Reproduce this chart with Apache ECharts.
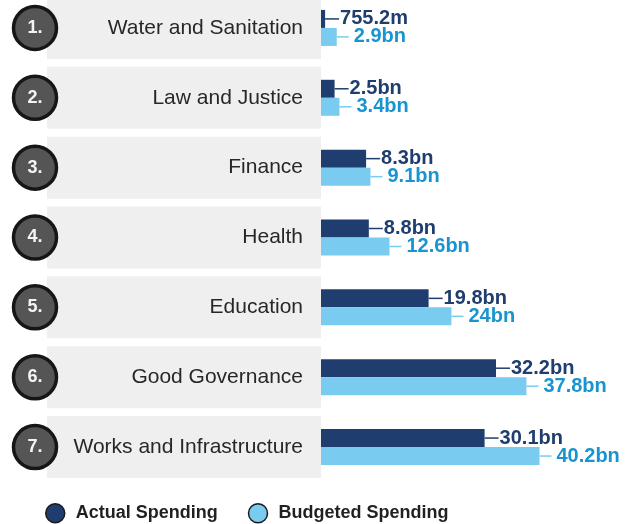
<!DOCTYPE html>
<html>
<head>
<meta charset="utf-8">
<script src="https://cdn.jsdelivr.net/npm/echarts@6/dist/echarts.min.js"></script>
<style>
html,body{margin:0;padding:0;background:#fff;}
#chart{width:632px;height:524px;}
</style>
</head>
<body>
<div id="chart"></div>
<script>
// Data
const categories = ['Water and Sanitation','Law and Justice','Finance','Health','Education','Good Governance','Works and Infrastructure'];
const ranks = ['1.','2.','3.','4.','5.','6.','7.'];
const actualSpending = [0.7552, 2.5, 8.3, 8.8, 19.8, 32.2, 30.1];   // billions
const budgetedSpending = [2.9, 3.4, 9.1, 12.6, 24, 37.8, 40.2];      // billions

const NAVY = '#1f3d6e';
const LIGHT = '#7acbf0';
const LIGHT_TEXT = '#1894d0';
const fmt = v => v < 1 ? (v * 1000).toFixed(1) + 'm' : v + 'bn';

const chart = echarts.init(document.getElementById('chart'));
const option = {
  animation: false,
  backgroundColor: '#ffffff',
  grid: [
    {left: 47, top: -7, height: 489, width: 274, outerBoundsMode: 'none', containLabel: false},
    {left: 321, top: -7, height: 489, width: 250, outerBoundsMode: 'none', containLabel: false}
  ],
  xAxis: [
    {gridIndex: 0, type: 'value', min: 0, max: 1, show: false},
    {gridIndex: 1, type: 'value', min: 0, max: 46, show: false}
  ],
  yAxis: [
    {gridIndex: 0, type: 'category', data: categories, inverse: true, show: false},
    {gridIndex: 1, type: 'category', data: categories, inverse: true, show: false}
  ],
  legend: {
    data: ['Actual Spending', 'Budgeted Spending'],
    left: 40, top: 498,
    icon: 'circle',
    itemWidth: 19, itemHeight: 19,
    itemGap: 30,
    itemStyle: {borderColor: '#1a1a1a', borderWidth: 1.5},
    textStyle: {fontFamily: 'Liberation Sans, Arial, sans-serif', fontSize: 18, fontWeight: 'bold', color: '#231f20', padding: [0, 0, 0, 6]}
  },
  series: [
    {
      name: 'panel', type: 'bar', xAxisIndex: 0, yAxisIndex: 0,
      data: categories.map(() => 1), barWidth: 62, silent: true,
      itemStyle: {color: '#efefef'},
      label: {
        show: true, position: 'insideRight', distance: 18,
        formatter: p => p.name,
        fontFamily: 'Liberation Sans, Arial, sans-serif', fontSize: 21, color: '#2a2627'
      }
    },
    {
      name: 'rank', type: 'scatter', xAxisIndex: 0, yAxisIndex: 0, clip: false, silent: true, z: 5,
      data: ranks.map((r, i) => [0, i]),
      symbol: 'circle', symbolSize: 43, symbolOffset: [-12, 0],
      itemStyle: {color: '#555555', borderColor: '#161616', borderWidth: 3.5, opacity: 1},
      label: {
        show: true, position: 'inside',
        formatter: p => ranks[p.dataIndex],
        fontFamily: 'Liberation Sans, Arial, sans-serif', fontSize: 18, fontWeight: 'bold', color: '#f4f4f4'
      }
    },
    {
      name: 'Actual Spending', type: 'bar', xAxisIndex: 1, yAxisIndex: 1,
      data: actualSpending, barWidth: 18, barGap: '0%',
      itemStyle: {color: NAVY},
      label: {
        show: true, position: 'right', distance: 0,
        formatter: p => '{l|}{t|' + fmt(p.value) + '}',
        rich: {
          l: {width: 14, height: 1.5, backgroundColor: NAVY},
          t: {fontFamily: 'Liberation Sans, Arial, sans-serif', fontSize: 20, fontWeight: 'bold', color: NAVY, padding: [0, 0, 0, 1]}
        }
      }
    },
    {
      name: 'Budgeted Spending', type: 'bar', xAxisIndex: 1, yAxisIndex: 1,
      data: budgetedSpending, barWidth: 18, barGap: '0%',
      itemStyle: {color: LIGHT},
      label: {
        show: true, position: 'right', distance: 0,
        formatter: p => '{l|}{t|' + fmt(p.value) + '}',
        rich: {
          l: {width: 12, height: 1.5, backgroundColor: LIGHT},
          t: {fontFamily: 'Liberation Sans, Arial, sans-serif', fontSize: 20, fontWeight: 'bold', color: LIGHT_TEXT, padding: [0, 0, 0, 5]}
        }
      }
    }
  ]
};
chart.setOption(option);
</script>
</body>
</html>
